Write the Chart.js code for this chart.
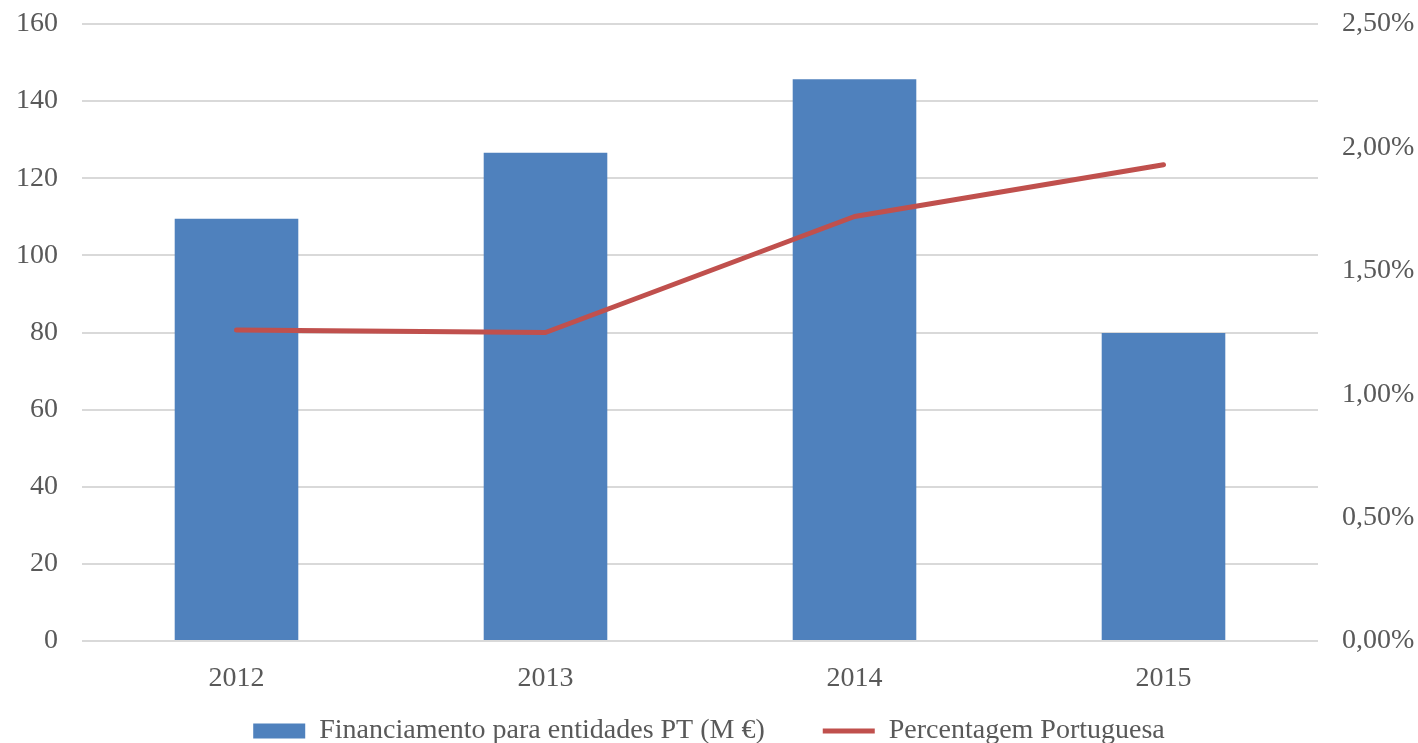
<!DOCTYPE html>
<html>
<head>
<meta charset="utf-8">
<script src="https://cdn.jsdelivr.net/npm/chart.js@4/dist/chart.umd.min.js"></script>
<style>
  html, body { margin: 0; padding: 0; background: #fff; overflow: hidden; }
  #wrap { width: 1418px; height: 743px; overflow: hidden; }
</style>
</head>
<body>
<div id="wrap"><canvas id="chart" width="1418" height="793"></canvas></div>
<script>
const years = ['2012', '2013', '2014', '2015'];
const financiamento = [109.5, 126.6, 145.7, 79.9];
const percentagem = [1.26, 1.25, 1.72, 1.93];

const textColor = '#595959';
const fontFamily = '"Liberation Serif", "DejaVu Serif", serif';
const fontSize = 28;

// the legend sits half cut off at the bottom, closer to the axis than its padding allows
const liftLegend = {
    id: 'liftLegend',
    afterLayout(chart) {
        const lg = chart.legend;
        if (!lg) return;
        lg.top -= 38;
        lg.bottom -= 38;
    }
};

function noEndPadding(scale) {
    scale.paddingTop = 0;
    scale.paddingBottom = 0;
}

const ctx = document.getElementById('chart').getContext('2d');
new Chart(ctx, {
    data: {
        labels: years,
        datasets: [
            {
                type: 'line',
                label: 'Percentagem Portuguesa',
                data: percentagem,
                yAxisID: 'y1',
                borderColor: '#c0504d',
                backgroundColor: '#c0504d',
                borderWidth: 5,
                borderCapStyle: 'round',
                borderJoinStyle: 'round',
                pointRadius: 0,
                tension: 0,
                order: 1
            },
            {
                type: 'bar',
                label: 'Financiamento para entidades PT (M €)',
                data: financiamento,
                yAxisID: 'y',
                backgroundColor: '#4f81bd',
                borderWidth: 0,
                categoryPercentage: 1,
                barPercentage: 0.4,
                order: 2
            }
        ]
    },
    plugins: [liftLegend],
    options: {
        responsive: false,
        animation: false,
        layout: { padding: { top: 24, left: 0, right: 0, bottom: 0 } },
        plugins: {
            tooltip: { enabled: false },
            legend: {
                position: 'bottom',
                reverse: true,
                labels: {
                    usePointStyle: true,
                    pointStyleWidth: 52,
                    boxHeight: 15,
                    padding: 58,
                    color: textColor,
                    font: { family: fontFamily, size: fontSize },
                    generateLabels(chart) {
                        const items = Chart.defaults.plugins.legend.labels.generateLabels(chart);
                        items.forEach(it => {
                            const ds = chart.data.datasets[it.datasetIndex];
                            it.pointStyle = ds.type === 'line' ? 'line' : 'rect';
                            it.lineWidth = ds.type === 'line' ? 5 : 0;
                        });
                        return items;
                    }
                }
            }
        },
        scales: {
            x: {
                grid: { display: false, drawTicks: false },
                border: { display: false },
                ticks: { color: textColor, font: { family: fontFamily, size: fontSize }, padding: 21 },
                afterFit(scale) { scale.height = 56; }
            },
            y: {
                position: 'left',
                min: 0,
                max: 160,
                ticks: { stepSize: 20, color: textColor, font: { family: fontFamily, size: fontSize }, padding: 24 },
                grid: { color: '#d9d9d9', lineWidth: 2, drawTicks: false },
                border: { display: false },
                afterFit(scale) { scale.width = 82; noEndPadding(scale); }
            },
            y1: {
                position: 'right',
                min: 0,
                max: 2.5,
                ticks: {
                    stepSize: 0.5,
                    color: textColor,
                    font: { family: fontFamily, size: fontSize },
                    padding: 24,
                    callback: v => v.toFixed(2).replace('.', ',') + '%'
                },
                grid: { display: false, drawTicks: false },
                border: { display: false },
                afterFit(scale) { scale.width = 100; noEndPadding(scale); }
            }
        }
    }
});
</script>
</body>
</html>
